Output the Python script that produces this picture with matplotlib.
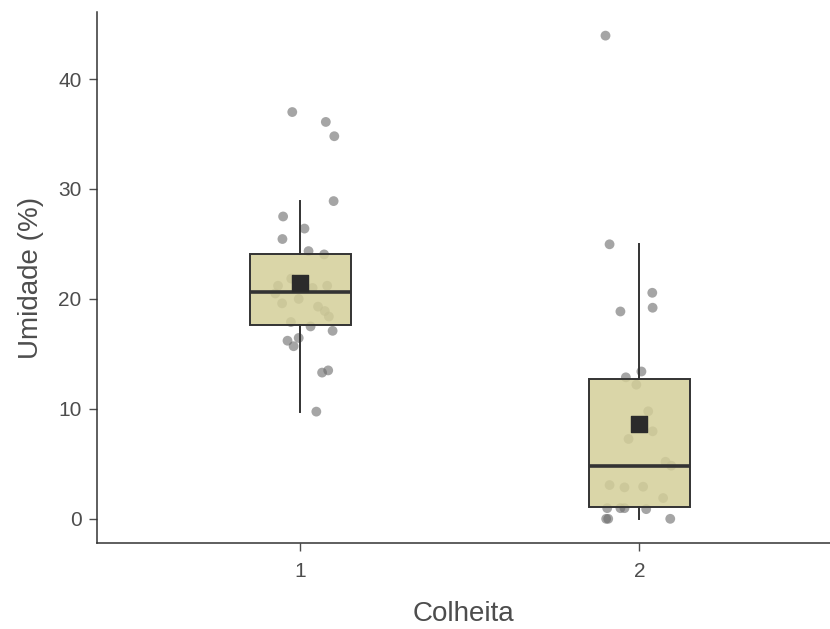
import matplotlib
matplotlib.use("Agg")
import matplotlib.pyplot as plt
import numpy as np

plt.rcParams['font.family'] = ['Liberation Sans', 'DejaVu Sans']

categories = ["1", "2"]

# jittered observations (value, horizontal jitter) per harvest
g1_values = [37.0, 36.1, 34.8, 28.9, 27.5, 26.4, 25.45, 24.35, 24.05, 21.85, 21.2, 21.0,
             21.2, 20.5, 19.6, 20.0, 19.3, 18.9, 18.4, 17.9, 17.5, 17.1, 16.2, 15.7,
             16.45, 13.3, 13.5, 9.75]
g1_jitter = [-0.024, 0.075, 0.10, 0.098, -0.051, 0.012, -0.053, 0.024, 0.07, -0.027, -0.066, 0.036,
             0.079, -0.074, -0.054, -0.005, 0.052, 0.072, 0.084, -0.028, 0.03, 0.095, -0.038, -0.02,
             -0.005, 0.064, 0.082, 0.047]
g2_values = [43.95, 24.97, 20.56, 19.2, 18.86, 13.4, 12.87, 12.2, 9.78, 7.96, 7.26, 5.19,
             4.83, 3.07, 2.86, 2.92, 1.89, 0.97, 0.97, 0.97, 0.88, 0.0, 0.0, 0.0]
g2_jitter = [-0.10, -0.088, 0.038, 0.039, -0.056, 0.006, -0.04, -0.009, 0.026, 0.039, -0.032, 0.077,
             0.094, -0.088, -0.044, 0.011, 0.07, -0.095, -0.056, -0.044, 0.02, -0.098, -0.092, 0.091]

# box statistics
box_whislo = [9.75, 0.0]
box_q1 = [17.6, 1.1]
box_med = [20.6, 4.83]
box_q3 = [24.1, 12.73]
box_whishi = [28.9, 24.97]
means = [21.45, 8.6]

fig = plt.figure(figsize=(8.3, 6.29), dpi=100)
ax = fig.add_axes([97/830, (629-543)/629, 1 - 97/830, (543-12)/629])

pos = [1, 2]

ax.scatter(1 + np.array(g1_jitter), g1_values, s=50, color='#6a6a6a', alpha=0.6,
           edgecolors='none', zorder=2)
ax.scatter(2 + np.array(g2_jitter), g2_values, s=50, color='#6a6a6a', alpha=0.6,
           edgecolors='none', zorder=2)

stats = []
for i in range(2):
    stats.append(dict(med=box_med[i], q1=box_q1[i], q3=box_q3[i],
                      whislo=box_whislo[i], whishi=box_whishi[i], fliers=[]))
edge = '#333333'
ax.bxp(stats, positions=pos, widths=0.3, patch_artist=True, showcaps=False,
       showfliers=False,
       boxprops=dict(facecolor=(0.83, 0.81, 0.6, 0.85), edgecolor=edge, linewidth=1.4),
       medianprops=dict(color=edge, linewidth=2.6),
       whiskerprops=dict(color=edge, linewidth=1.4), zorder=3)

ax.scatter(pos, means, marker='s', s=140, color='#2b2b2b', zorder=4)

ax.set_xlim(0.4, 0.4 + (830-97)/339)
ax.set_ylim(-2.2, 46.1)
ax.set_xticks(pos)
ax.set_xticklabels(categories)
ax.set_yticks([0, 10, 20, 30, 40])

for s in ['top', 'right']:
    ax.spines[s].set_visible(False)
for s in ['left', 'bottom']:
    ax.spines[s].set_color('#333333')
    ax.spines[s].set_linewidth(1.1)
ax.tick_params(axis='both', colors='#4D4D4D', labelsize=15, length=6, width=1.0, pad=5)
ax.tick_params(axis='x', pad=8)
ax.tick_params(axis='both', labelcolor='#4D4D4D')

ax.set_xlabel('Colheita', fontsize=20, color='#4D4D4D', labelpad=14)
ax.set_ylabel('Umidade (%)', fontsize=20, color='#4D4D4D', labelpad=10)

fig.savefig('out.png', dpi=100)
